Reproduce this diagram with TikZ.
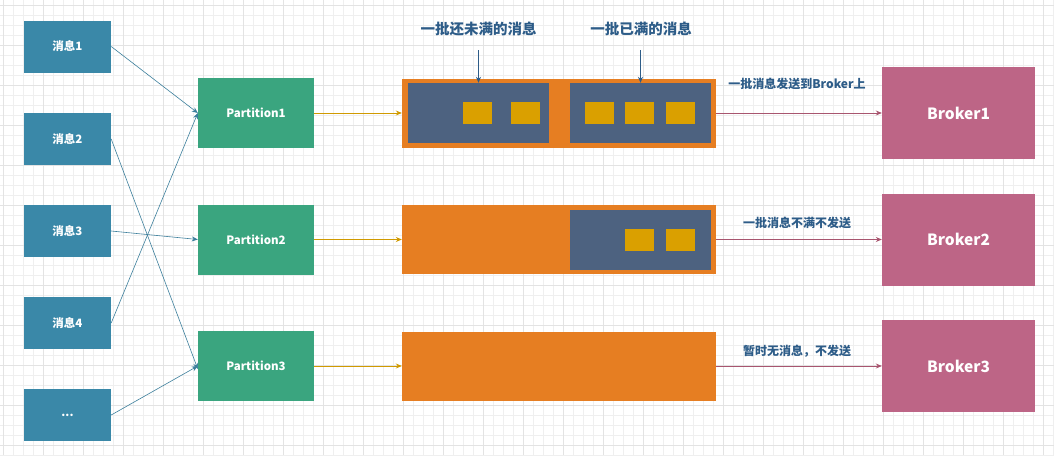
\documentclass[tikz,border=0pt]{standalone}
\usepackage{fontspec}
\setmainfont{Noto Sans CJK SC}
\usetikzlibrary{arrows.meta}
\definecolor{msgc}{HTML}{3A88A8}
\definecolor{partc}{HTML}{3AA57F}
\definecolor{brokc}{HTML}{BD6586}
\definecolor{orc}{HTML}{E67E22}
\definecolor{darkc}{HTML}{4D6280}
\definecolor{yelc}{HTML}{DAA000}
\definecolor{labc}{HTML}{2D5C88}
\definecolor{linec}{HTML}{3C7F9C}
\definecolor{goldc}{HTML}{D09A00}
\definecolor{pinkl}{HTML}{A8556F}
\definecolor{gridc}{HTML}{EFEFEF}
\definecolor{gridm}{HTML}{E3E3E3}
\begin{document}
\begin{tikzpicture}[x=1pt,y=-1pt,
  msg/.style={fill=msgc,draw=none,minimum width=87pt,minimum height=52pt,inner sep=0pt,text=white,font=\fontsize{11.5}{13}\selectfont\bfseries},
  part/.style={fill=partc,draw=none,minimum width=116pt,minimum height=70pt,inner sep=0pt,text=white,font=\fontsize{11.5}{13}\selectfont\bfseries},
  batch/.style={fill=orc,draw=none,minimum width=314pt,minimum height=69pt,inner sep=0pt},
  inner/.style={fill=darkc,draw=none,minimum width=141pt,minimum height=60pt,inner sep=0pt},
  rec/.style={fill=yelc,draw=none,minimum width=29pt,minimum height=22pt,inner sep=0pt},
  brok/.style={fill=brokc,draw=none,minimum width=153pt,minimum height=92pt,inner sep=0pt,text=white,font=\fontsize{15.5}{18}\selectfont\bfseries},
  lab/.style={text=labc,font=\fontsize{12}{14}\selectfont\bfseries,inner sep=1pt},
  toplab/.style={text=labc,font=\fontsize{14.5}{17}\selectfont\bfseries,inner sep=1pt},
  msgarr/.style={draw=linec,line width=0.6pt,-{Stealth[length=6pt,width=5pt]}},
  goldarr/.style={draw=goldc,line width=0.8pt,-{Stealth[length=6pt,width=5pt]}},
  pinkarr/.style={draw=pinkl,line width=0.8pt,-{Stealth[length=6pt,width=5pt]}},
  labarr/.style={draw=labc,line width=0.8pt,-{Stealth[length=6pt,width=5pt]}}
]
\useasboundingbox (0,0) rectangle (1054,455);
\fill[white] (0,0) rectangle (1054,455);
\foreach \i in {0,...,105} {\draw[gridc,line width=0.4pt] (\i*10+3,0) -- (\i*10+3,455);}
\foreach \i in {0,...,45} {\draw[gridc,line width=0.4pt] (0,\i*10+5) -- (1054,\i*10+5);}
\foreach \i in {0,...,26} {\draw[gridm,line width=0.7pt] (\i*40+3,0) -- (\i*40+3,455);}
\foreach \i in {0,...,11} {\draw[gridm,line width=0.7pt] (0,\i*40+5) -- (1054,\i*40+5);}

% messages
\node[msg] (m1) at (67.5,46.5) {消息1};
\node[msg] (m2) at (67.5,139) {消息2};
\node[msg] (m3) at (67.5,231) {消息3};
\node[msg] (m4) at (67.5,323) {消息4};
\node[msg] (m5) at (67.5,415) {...};

% partitions
\node[part] (p1) at (256,113) {Partition1};
\node[part] (p2) at (256,239.5) {Partition2};
\node[part] (p3) at (256,366) {Partition3};

% batches
\node[batch] (b1) at (559,113) {};
\node[batch] (b2) at (559,239.5) {};
\node[batch] (b3) at (559,366) {};

\node[inner] (d1) at (478.5,113) {};
\node[inner] (d2) at (640.5,113) {};
\node[inner] (d3) at (640.5,239.5) {};

\node[rec] (r1) at (477.5,113) {};
\node[rec] (r2) at (525.5,113) {};
\node[rec] (r3) at (599.5,113) {};
\node[rec] (r4) at (639.5,113) {};
\node[rec] (r5) at (680.5,113) {};
\node[rec] (r6) at (639.5,239.5) {};
\node[rec] (r7) at (680.5,239.5) {};

% brokers
\node[brok] (k1) at (958.5,113) {Broker1};
\node[brok] (k2) at (958.5,239.5) {Broker2};
\node[brok] (k3) at (958.5,366) {Broker3};

% top labels
\node[toplab] (t1) at (478.5,29) {一批还未满的消息};
\node[toplab] (t2) at (641,29) {一批已满的消息};
\coordinate (t1e) at (478.5,50);
\coordinate (t2e) at (640.5,50);
\draw[labarr] (t1e) -- (d1.north);
\draw[labarr] (t2e) -- (d2.north);

% message arrows
\draw[msgarr] (m1.east) -- (p1.west);
\draw[msgarr] (m2.east) -- ([yshift=-3pt]p3.west);
\draw[msgarr] (m3.east) -- (p2.west);
\draw[msgarr] (m4.east) -- (p1.west);
\draw[msgarr] (m5.east) -- (p3.west);

% partition -> batch
\draw[goldarr] (p1.east) -- (b1.west);
\draw[goldarr] (p2.east) -- (b2.west);
\draw[goldarr] (p3.east) -- (b3.west);

% batch -> broker
\draw[pinkarr] (b1.east) -- (k1.west);
\draw[pinkarr] (b2.east) -- (k2.west);
\draw[pinkarr] (b3.east) -- (k3.west);

\node[lab] (l1) at (797,84) {一批消息发送到Broker上};
\node[lab] (l2) at (797,223) {一批消息不满不发送};
\node[lab] (l3) at (797,351) {暂时无消息，不发送};
\end{tikzpicture}
\end{document}
